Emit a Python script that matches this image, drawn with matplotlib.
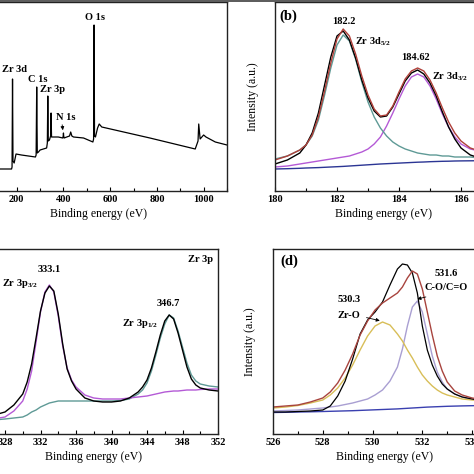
import matplotlib
matplotlib.use("Agg")
import matplotlib.pyplot as plt
from matplotlib.lines import Line2D
from matplotlib.ticker import MultipleLocator

plt.rcParams['font.family'] = ['Liberation Serif', 'DejaVu Serif']
plt.rcParams['font.weight'] = 'bold'
plt.rcParams['mathtext.fontset'] = 'custom'
plt.rcParams['mathtext.rm'] = 'Liberation Serif:bold'
plt.rcParams['mathtext.it'] = 'Liberation Serif:bold'
plt.rcParams['mathtext.bf'] = 'Liberation Serif:bold'

# (a) survey spectrum
survey_be = [0, 178, 180, 182, 184, 189, 197, 220, 250, 280, 283, 285.5, 288, 293, 300,
             328, 331, 333, 335, 340, 345, 347, 349, 353, 378, 397, 399, 400, 401, 403,
             414, 426, 431, 436, 443, 486, 526, 529, 531, 533, 537, 546, 553, 564, 770,
             964, 976, 979, 985, 1000, 1010, 1050, 1100]
survey_int = [22, 22, 24, 112, 30, 28, 37, 36, 35, 34, 36, 104, 38, 39, 41,
              43, 48, 95, 50, 51, 55, 78, 54, 54, 54, 53, 55, 58, 55, 53,
              54, 55, 59, 55, 54, 53, 49, 52, 166, 55, 54, 63, 67, 64, 53,
              42, 50, 67, 52, 56, 54, 49, 46]

# (b) Zr 3d
zr3d_be = [180.0, 180.4, 180.8, 181.0, 181.2, 181.4, 181.6, 181.8, 182.0, 182.2, 182.4,
           182.6, 182.8, 183.0, 183.2, 183.4, 183.6, 183.8, 184.0, 184.2, 184.4, 184.6,
           184.8, 185.0, 185.2, 185.4, 185.6, 185.8, 186.0, 186.3, 186.6, 187.0]
zr3d_raw = [27, 31, 38, 46, 58, 78, 106, 134, 155, 160, 151, 133, 111, 93, 80, 74, 75, 84,
            97, 110, 118, 121, 117, 108, 95, 79, 64, 52, 43, 36, 33, 30]
zr3d_fit = [31, 35, 41, 46, 56, 74, 100, 128, 152, 162, 155, 137, 115, 96, 82, 75, 76, 85,
            99, 112, 120, 123, 120, 111, 98, 83, 69, 58, 50, 43, 40, 37]
zr3d_52 = [32, 35, 41, 46, 55, 71, 96, 123, 146, 156, 150, 132, 109, 89, 74, 63, 55, 49,
           45, 42, 40, 38, 37, 36, 36, 35, 35, 34, 34, 34, 33, 33]
zr3d_32 = [24, 25, 27, 28, 29, 30, 31, 32, 33, 34, 35, 37, 39, 42, 47, 54, 65, 78,
           92, 105, 114, 117, 114, 105, 92, 77, 64, 54, 47, 42, 40, 38]
zr3d_bg = [22, 22.3, 22.7, 23, 23.2, 23.4, 23.7, 24, 24.3, 24.6, 25, 25.4, 25.8, 26.2, 26.6,
           27, 27.3, 27.6, 27.9, 28.2, 28.5, 28.8, 29, 29.3, 29.5, 29.7, 29.8, 30, 30.1,
           30.2, 30.3, 30.4]

# (c) Zr 3p
zr3p_be = [324, 326, 328, 329, 330, 330.5, 331, 331.5, 332, 332.5, 333, 333.5, 334, 334.5,
           335, 335.5, 336, 337, 338, 339, 340, 341, 342, 343, 343.5, 344, 344.5, 345,
           345.5, 346, 346.5, 347, 347.5, 348, 348.5, 349, 349.5, 350, 351, 352]
zr3p_raw = [14, 17, 22, 29, 40, 52, 70, 96, 123, 141, 148, 143, 120, 90, 65, 53, 45, 36,
            33, 32, 32, 33, 36, 42, 47, 54, 66, 82, 99, 113, 119, 115, 101, 84, 67, 55,
            49, 46, 44, 43]
zr3p_32 = [12, 14, 17, 23, 33, 45, 63, 92, 122, 142, 149, 142, 118, 88, 66, 54, 47, 39,
           36, 35, 35, 35, 36, 37, 37.5, 38, 39, 40, 41, 42, 42.5, 43, 43, 43.5, 44, 44,
           44, 44.5, 45, 45]
zr3p_12 = [12, 13.5, 15, 16, 17, 19, 22, 24, 27, 29, 31, 32, 33, 33, 33, 33, 33, 33,
           33, 33, 33, 33.5, 35, 40, 44, 51, 63, 79, 96, 110, 119, 116, 103, 87, 71, 59,
           53, 50, 48, 47]

# (d) O 1s
o1s_be = [526, 526.5, 527, 527.5, 528, 528.3, 528.6, 528.9, 529.2, 529.5, 529.8, 530.1,
          530.4, 530.7, 531.0, 531.2, 531.4, 531.6, 531.8, 532.0, 532.2, 532.4, 532.6,
          532.8, 533.0, 533.3, 533.6, 534.0, 534.5, 535.0]
o1s_raw = [22, 22, 22.5, 23, 24, 28, 38, 53, 75, 100, 114, 122, 132, 149, 165, 170, 169,
           161, 141, 108, 84, 69, 58, 50, 45, 40, 37, 35, 33, 32]
o1s_fit = [27, 28, 29, 32, 36, 42, 51, 64, 80, 99, 113, 124, 131, 136, 141, 147, 156, 163,
           160, 145, 122, 99, 78, 63, 52, 43, 39, 36, 34, 33]
o1s_zro = [26, 27, 28.5, 31, 34, 39, 46, 56, 69, 84, 98, 108, 112, 109, 100, 93, 84, 76,
           67, 59, 53, 48, 44, 41, 39, 37, 35, 34, 33, 32]
o1s_co = [23, 23.5, 24, 25, 26, 27, 28, 29.5, 31, 33, 35, 39, 44, 53, 67, 85, 108, 127,
          133, 122, 100, 78, 62, 52, 45, 40, 37, 35, 34, 33]
o1s_bg = [21.5, 21.7, 22, 22.2, 22.5, 22.7, 22.9, 23.1, 23.3, 23.6, 23.9, 24.2, 24.5, 24.8,
          25.1, 25.4, 25.7, 26, 26.3, 26.6, 26.9, 27.1, 27.3, 27.5, 27.7, 27.9, 28.1, 28.3,
          28.5, 28.6]

W = H = 474.0
fig = plt.figure(figsize=(4.74, 4.74), dpi=100)


def axes_px(left, top, right, bottom):
    # pixel box (from top-left of the image) -> figure fraction
    return fig.add_axes([left / W, 1 - bottom / H, (right - left) / W, (bottom - top) / H])


ax_a = axes_px(-30, 2, 227, 191)
ax_b = axes_px(275, 2, 492, 191)
ax_c = axes_px(-30.5, 249, 218, 434)
ax_d = axes_px(273, 249, 497, 434)

# grey border line along the top edge of the cropped figure
fig.add_artist(Line2D([0, 1], [1 - 0.8 / H, 1 - 0.8 / H], transform=fig.transFigure,
                      color='#5a5a5a', lw=1.4))

red = '#b0403a'
teal = '#5f9a96'
purple = '#b45ad6'
navy = '#2b3594'

ax_a.plot(survey_be, survey_int, color='black', lw=0.9)
ax_a.set_xlim(0, 1100)
ax_a.set_ylim(0, 189)
ax_a.xaxis.set_major_locator(MultipleLocator(200))
ax_a.xaxis.set_minor_locator(MultipleLocator(100))
ax_a.text(536, 174, 'O 1s', ha='center', va='center', fontsize=7.5)
ax_a.text(190, 121, 'Zr 3d', ha='center', va='center', fontsize=7.5)
ax_a.text(288, 112, 'C 1s', ha='center', va='center', fontsize=7.5)
ax_a.text(353, 101, 'Zr 3p', ha='center', va='center', fontsize=7.5)
ax_a.text(410, 74, 'N 1s', ha='center', va='center', fontsize=7.5)
ax_a.annotate('', xy=(399, 58), xytext=(393, 69),
              arrowprops=dict(arrowstyle='-|>', color='black', lw=0.6, mutation_scale=5))

ax_b.plot(zr3d_be, zr3d_bg, color=navy, lw=1.0)
ax_b.plot(zr3d_be, zr3d_32, color=purple, lw=1.0)
ax_b.plot(zr3d_be, zr3d_52, color=teal, lw=1.0)
ax_b.plot(zr3d_be, zr3d_raw, color='black', lw=1.0)
ax_b.plot(zr3d_be, zr3d_fit, color=red, lw=1.0)
ax_b.set_xlim(180, 187)
ax_b.set_ylim(0, 189)
ax_b.xaxis.set_major_locator(MultipleLocator(2))
ax_b.xaxis.set_minor_locator(MultipleLocator(1))
ax_b.text(180.15, 175, '(b)', ha='left', va='center', fontsize=10.5)
ax_b.text(182.23, 170, '182.2', ha='center', va='center', fontsize=7.5)
ax_b.text(182.58, 149, r'Zr 3d$_{5/2}$', ha='left', va='center', fontsize=7.5)
ax_b.text(184.52, 133, '184.62', ha='center', va='center', fontsize=7.5)
ax_b.text(185.06, 114, r'Zr 3d$_{3/2}$', ha='left', va='center', fontsize=7.5)

ax_c.plot(zr3p_be, zr3p_12, color=teal, lw=1.0)
ax_c.plot(zr3p_be, zr3p_32, color=purple, lw=1.0)
ax_c.plot(zr3p_be, zr3p_raw, color='black', lw=1.0)
ax_c.set_xlim(324, 352)
ax_c.set_ylim(0, 185)
ax_c.xaxis.set_major_locator(MultipleLocator(4))
ax_c.xaxis.set_minor_locator(MultipleLocator(2))
ax_c.text(350.0, 174, 'Zr 3p', ha='center', va='center', fontsize=7.5)
ax_c.text(332.96, 164, '333.1', ha='center', va='center', fontsize=7.5)
ax_c.text(329.7, 151, r'Zr 3p$_{3/2}$', ha='center', va='center', fontsize=7.5)
ax_c.text(346.4, 130, '346.7', ha='center', va='center', fontsize=7.5)
ax_c.text(343.2, 111, r'Zr 3p$_{1/2}$', ha='center', va='center', fontsize=7.5)

ax_d.plot(o1s_be, o1s_bg, color='#3a40b0', lw=1.0)
ax_d.plot(o1s_be, o1s_co, color='#a99fd2', lw=1.0)
ax_d.plot(o1s_be, o1s_zro, color='#d8be58', lw=1.0)
ax_d.plot(o1s_be, o1s_raw, color='black', lw=0.9)
ax_d.plot(o1s_be, o1s_fit, color='#a8443e', lw=1.0)
ax_d.set_xlim(526, 535)
ax_d.set_ylim(0, 185)
ax_d.xaxis.set_major_locator(MultipleLocator(2))
ax_d.xaxis.set_minor_locator(MultipleLocator(1))
ax_d.text(526.28, 173, '(d)', ha='left', va='center', fontsize=10.5)
ax_d.text(529.05, 135, '530.3', ha='center', va='center', fontsize=7.5)
ax_d.text(529.05, 118, 'Zr-O', ha='center', va='center', fontsize=7.5)
ax_d.annotate('', xy=(530.4, 112.7), xytext=(529.65, 117),
              arrowprops=dict(arrowstyle='-|>', color='black', lw=0.6, mutation_scale=5))
ax_d.text(532.95, 161, '531.6', ha='center', va='center', fontsize=7.5)
ax_d.text(532.95, 147, 'C-O/C=O', ha='center', va='center', fontsize=7.5)
ax_d.annotate('', xy=(531.69, 134.3), xytext=(532.25, 137.7),
              arrowprops=dict(arrowstyle='-|>', color='black', lw=0.6, mutation_scale=5))

for ax in (ax_a, ax_b, ax_c, ax_d):
    ax.set_yticks([])
    ax.tick_params(axis='x', which='both', direction='in', top=False, labelsize=7.5, pad=3)
    ax.tick_params(axis='x', which='major', length=3, width=0.8)
    ax.tick_params(axis='x', which='minor', length=2.5, width=0.8)
    for s in ax.spines.values():
        s.set_linewidth(1.0)
        s.set_color('#222222')
    ax.set_xlabel('Binding energy (eV)', fontsize=8.5, labelpad=3)

for ax in (ax_b, ax_d):
    ax.set_ylabel('Intensity (a.u.)', fontsize=8.5)
    ax.yaxis.set_label_coords(-0.075, 0.5)

fig.savefig('out.png', dpi=100)
